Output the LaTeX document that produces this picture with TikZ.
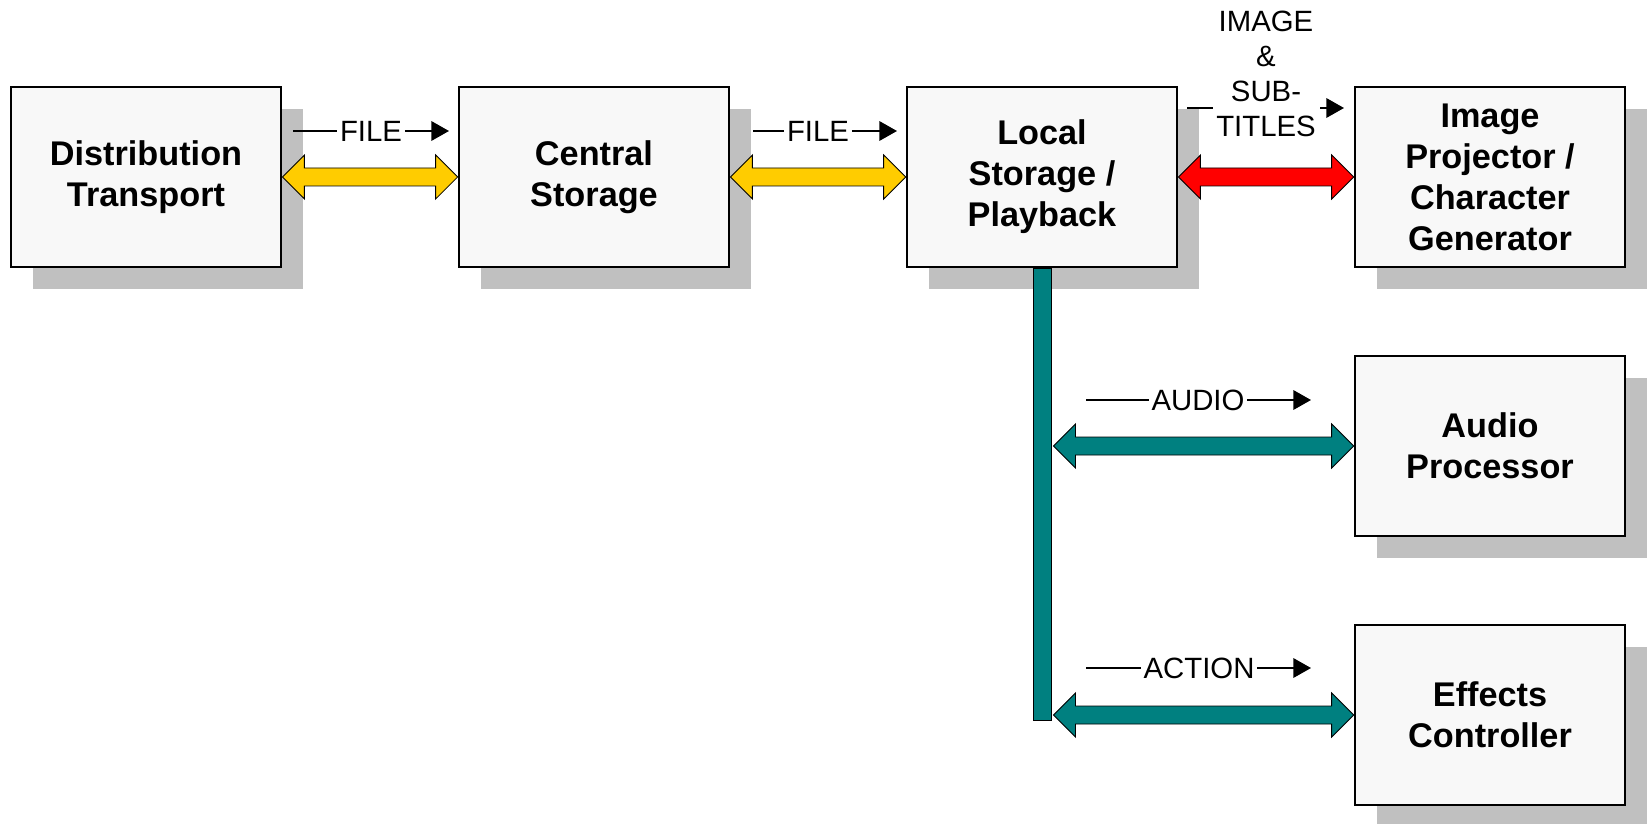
\documentclass[tikz,border=0pt]{standalone}
\usepackage{fontspec}
\setmainfont{Liberation Sans}
\usetikzlibrary{arrows.meta, positioning, calc, shadows}

\definecolor{boxfill}{RGB}{248,248,248}
\definecolor{shadowgray}{RGB}{192,192,192}
\definecolor{filegold}{RGB}{255,204,0}
\definecolor{imagered}{RGB}{255,0,0}
\definecolor{busteal}{RGB}{0,128,128}

\tikzset{
    block/.style={draw=black, line width=1.6pt, fill=boxfill, minimum width=5.4cm, minimum height=3.6cm,
        inner sep=0pt, align=center, font=\bfseries\fontsize{19.5}{23.3}\selectfont,
        drop shadow={shadow xshift=0.44cm, shadow yshift=-0.44cm, fill=shadowgray, opacity=1}},
    fatline/.style={draw=black, line width=0.5pt, line join=miter},
    flowlabel/.style={inner sep=1.5pt, align=center, font=\fontsize{16.7}{19.8}\selectfont},
    tagline/.style={line width=1.2pt},
    tagarrow/.style={line width=1.2pt, -{Triangle[length=10pt, width=11pt]}}
}

% fat double arrow: colour, left tip, right tip
\newcommand{\fatarrow}[3]{%
    \draw[fatline, fill=#1] (#2) -- ++(22,-22) -- ++(0,13) -- ($(#3)+(-22,-9)$) -- ++(0,-13) -- (#3)
        -- ++(-22,22) -- ++(0,-13) -- ($(#2)+(22,9)$) -- ++(0,13) -- cycle;}

\begin{document}
\begin{tikzpicture}[x=0.02cm, y=-0.02cm]
    \useasboundingbox (0,0) rectangle (1649,824);

    \node[block] (dist) at (146,177) {Distribution\\Transport};
    \node[block] (central) at (594,177) {Central\\Storage};
    \node[block] (local) at (1042,177) {Local\\Storage /\\Playback};
    \node[block] (projector) at (1490,177) {Image\\Projector /\\Character\\Generator};
    \node[block] (audio) at (1490,446) {Audio\\Processor};
    \node[block] (effects) at (1490,715) {Effects\\Controller};

    % bus out of local playback
    \node[fatline, fill=busteal, minimum width=0.36cm, minimum height=9.04cm, inner sep=0pt,
        anchor=north] (bus) at (local.south) {};
    \coordinate (audioin) at ($(bus.east |- audio.west)+(2,0)$);
    \coordinate (effectsin) at ($(bus.east |- effects.west)+(2,0)$);

    \fatarrow{filegold}{dist.east}{central.west}
    \fatarrow{filegold}{central.east}{local.west}
    \fatarrow{imagered}{local.east}{projector.west}
    \fatarrow{busteal}{audioin}{audio.west}
    \fatarrow{busteal}{effectsin}{effects.west}

    % flow labels
    \node[flowlabel] (filea) at (371,131) {FILE};
    \coordinate (fileastart) at (293,131);
    \coordinate (fileaend) at (449,131);
    \draw[tagline] (fileastart) -- (filea.west);
    \draw[tagarrow] (filea.east) -- (fileaend);

    \node[flowlabel] (fileb) at (818,131) {FILE};
    \coordinate (filebstart) at (753,131);
    \coordinate (filebend) at (897,131);
    \draw[tagline] (filebstart) -- (fileb.west);
    \draw[tagarrow] (fileb.east) -- (filebend);

    \node[flowlabel] (imgtxt) at (1266,74) {IMAGE\\\&\\SUB-\\TITLES};
    \coordinate (imgstart) at (1187,108);
    \coordinate (imgmid) at (1213,108);
    \coordinate (imgtip) at (1320,108);
    \coordinate (imgend) at (1344,108);
    \draw[tagline] (imgstart) -- (imgmid);
    \draw[tagarrow] (imgtip) -- (imgend);

    \node[flowlabel] (audiotxt) at (1198,400) {AUDIO};
    \coordinate (audiostart) at (1086,400);
    \coordinate (audioend) at (1311,400);
    \draw[tagline] (audiostart) -- (audiotxt.west);
    \draw[tagarrow] (audiotxt.east) -- (audioend);

    \node[flowlabel] (actiontxt) at (1199,668) {ACTION};
    \coordinate (actionstart) at (1086,668);
    \coordinate (actionend) at (1311,668);
    \draw[tagline] (actionstart) -- (actiontxt.west);
    \draw[tagarrow] (actiontxt.east) -- (actionend);
\end{tikzpicture}
\end{document}
